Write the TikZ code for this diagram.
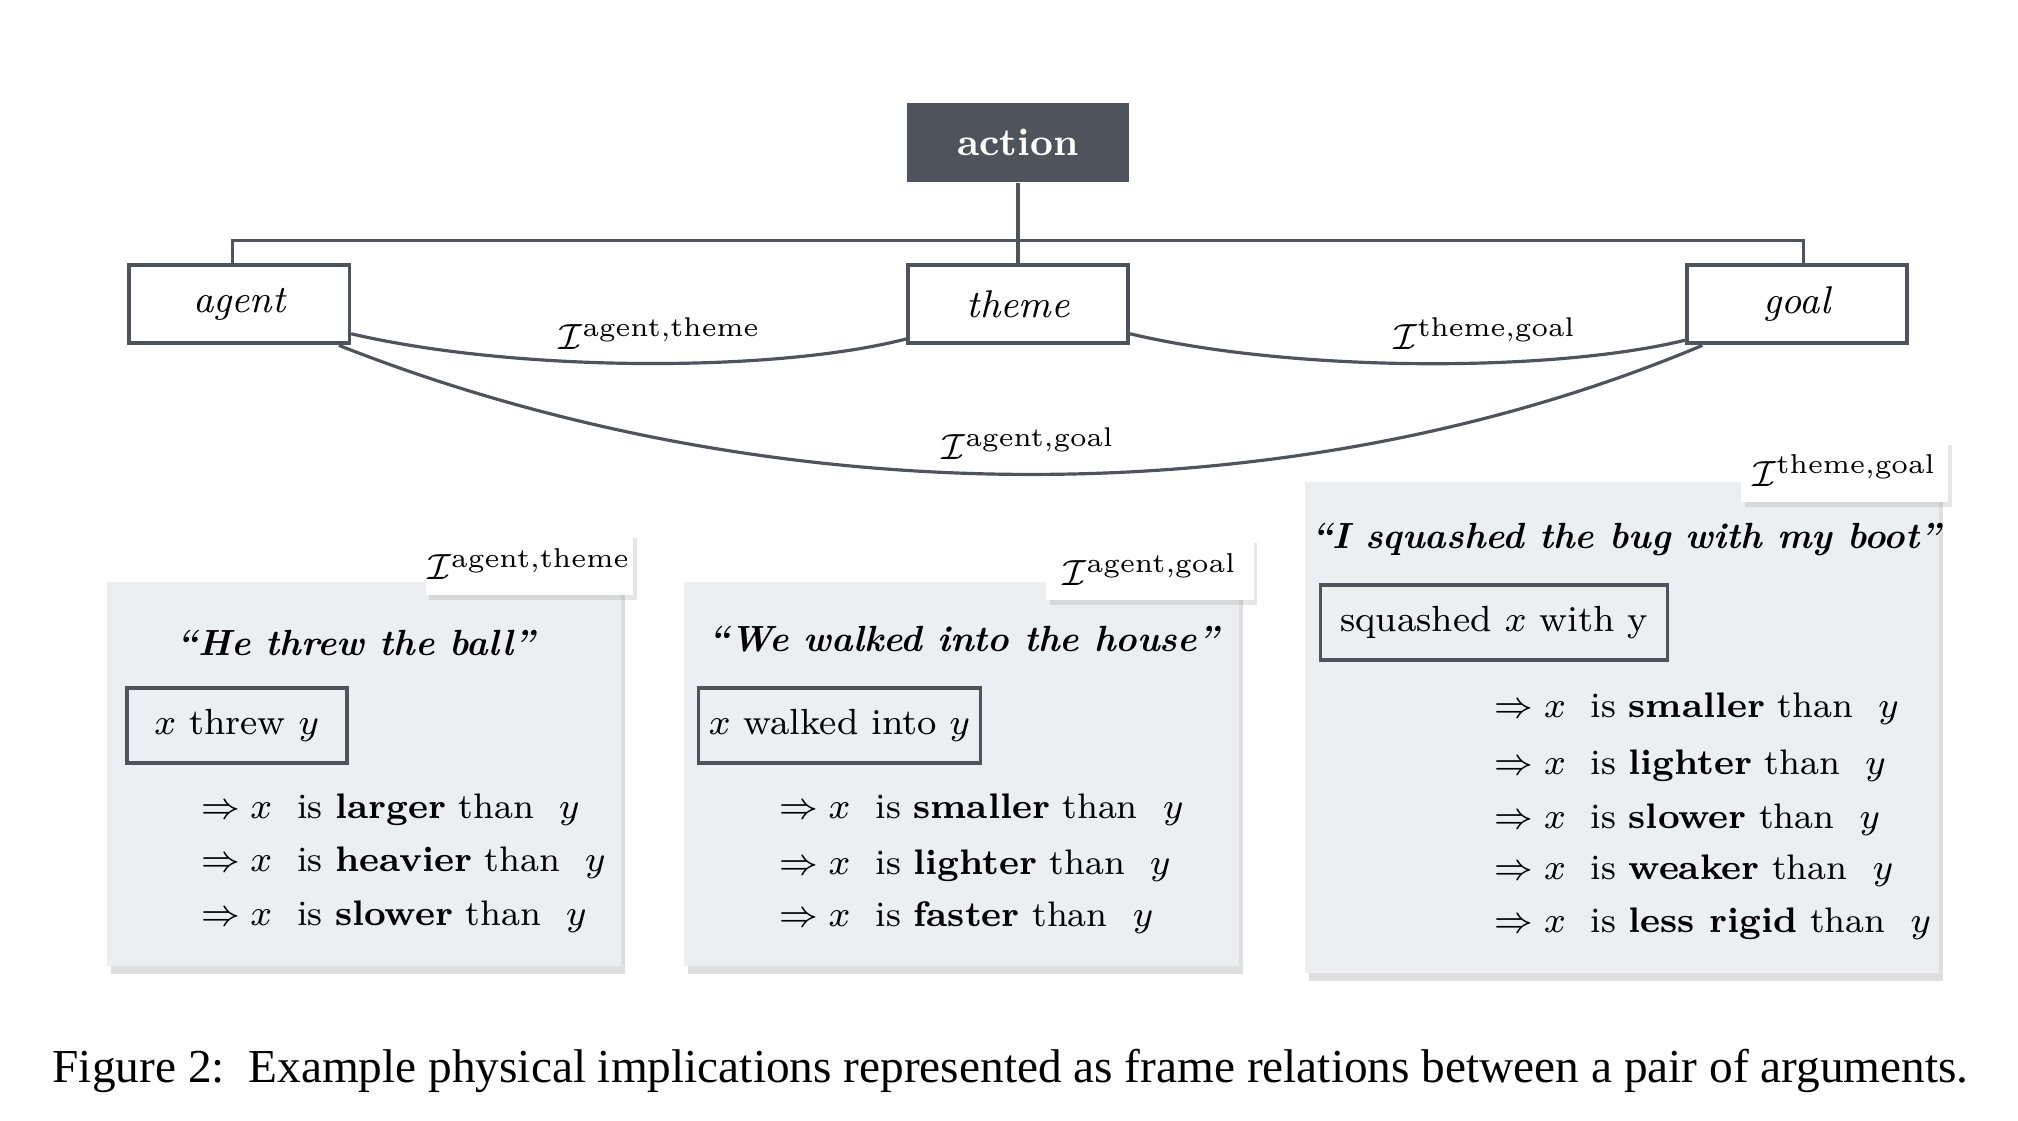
\documentclass[tikz,border=0pt]{standalone}
\usepackage{amsmath}
\usepackage{fontspec}
\newfontfamily\capfont{Liberation Serif}
\usetikzlibrary{shadows}
\definecolor{dk}{HTML}{4F535B}
\definecolor{pn}{HTML}{ECEEF1}
\tikzset{
  ent/.style={draw=dk,line width=0.8pt,minimum width=1.7cm,minimum height=0.6cm,inner sep=0pt,font=\fontsize{8.5}{10}\selectfont\itshape},
  con/.style={draw=dk,line width=0.7pt},
  panel/.style={fill=pn,drop shadow={opacity=0.25,shadow xshift=0.3mm,shadow yshift=-0.6mm}},
  tag/.style={fill=white,drop shadow={opacity=0.2,shadow xshift=0.3mm,shadow yshift=-0.4mm},minimum width=1.6cm,minimum height=0.48cm,inner sep=0pt,font=\fontsize{8}{10}\selectfont},
  ibox/.style={draw=dk,line width=0.8pt,minimum height=0.58cm,inner sep=0pt,font=\fontsize{8}{10}\selectfont},
  quote/.style={font=\fontsize{8}{10}\selectfont\bfseries\itshape},
  imp/.style={anchor=west,font=\fontsize{7.8}{10}\selectfont},
  lab/.style={font=\fontsize{8.5}{10}\selectfont}
}
\newcommand{\Irel}[1]{$\mathcal{I}^{\text{#1}}$}
\newcommand{\impl}[2]{$\Rightarrow x$\ \ is \textbf{#1} than\ \ $y$}
\begin{document}
\begin{tikzpicture}[x=0.01cm,y=-0.01cm]
\useasboundingbox (0,0) rectangle (1560,866);
% top nodes
\node[fill=dk,text=white,minimum width=1.71cm,minimum height=0.61cm,inner sep=0pt,font=\fontsize{8.5}{10}\selectfont\bfseries] (action) at (787,110) {action};
\node[ent] (agent) at (185,235) {agent};
\node[ent] (theme) at (787,235) {theme};
\node[ent] (goal) at (1389,235) {goal};
\coordinate (bl) at (180,186);
\coordinate (br) at (1394,186);
\draw[con] (action.south) -- (theme.north);
\draw[con] (agent.north -| bl) -- (bl) -- (br) -- (goal.north -| br);
% curves
\draw[con] (agent.east |- 0,258) .. controls (400,288) and (600,288) .. (theme.west |- 0,262);
\draw[con] (theme.east |- 0,258) .. controls (1000,288) and (1200,288) .. (goal.west |- 0,263);
\draw[con] (262,267) .. controls (600,400) and (1000,400) .. (1316,267);
\node[lab] (l1) at (510,258) {\Irel{agent,theme}};
\node[lab] (l2) at (1148,258) {\Irel{theme,goal}};
\node[lab] (l3) at (795,343) {\Irel{agent,goal}};
% panel 1
\node[panel,minimum width=3.97cm,minimum height=2.97cm,inner sep=0pt] (p1) at (281.5,598.5) {};
\node[tag] (t1) at (409,436) {\Irel{agent,theme}};
\node[quote] (q1) at (275,497) {``He threw the ball''};
\node[ibox,minimum width=1.7cm] (b1) at (183,561) {$x$ threw $y$};
\node[imp] (a1) at (143,626) {\impl{larger}{}};
\node[imp] (a2) at (143,667) {\impl{heavier}{}};
\node[imp] (a3) at (143,709) {\impl{slower}{}};
% panel 2
\node[panel,minimum width=4.29cm,minimum height=2.97cm,inner sep=0pt] (p2) at (743.5,598.5) {};
\node[tag] (t2) at (889,440) {\Irel{agent,goal}};
\node[quote] (q2) at (745,494) {``We walked into the house''};
\node[ibox,minimum width=2.18cm] (b2) at (649,561) {$x$ walked into $y$};
\node[imp] (c1) at (590,626) {\impl{smaller}{}};
\node[imp] (c2) at (590,669) {\impl{lighter}{}};
\node[imp] (c3) at (590,709) {\impl{faster}{}};
% panel 3
\node[panel,minimum width=4.9cm,minimum height=3.79cm,inner sep=0pt] (p3) at (1254,562.5) {};
\node[tag] (t3) at (1426,364) {\Irel{theme,goal}};
\node[quote] (q3) at (1257,417) {``I squashed the bug with my boot''};
\node[ibox,minimum width=2.68cm] (b3) at (1155,481) {squashed $x$ with y};
\node[imp] (d1) at (1143,548) {\impl{smaller}{}};
\node[imp] (d2) at (1143,592) {\impl{lighter}{}};
\node[imp] (d3) at (1143,634) {\impl{slower}{}};
\node[imp] (d4) at (1143,673) {\impl{weaker}{}};
\node[imp] (d5) at (1143,714) {\impl{less rigid}{}};
% caption
\node[anchor=west,inner sep=0pt,font=\capfont\fontsize{10.4}{12}\selectfont] (cap) at (40,828) {Figure 2:\ \ Example physical implications represented as frame relations between a pair of arguments.};
\end{tikzpicture}
\end{document}
